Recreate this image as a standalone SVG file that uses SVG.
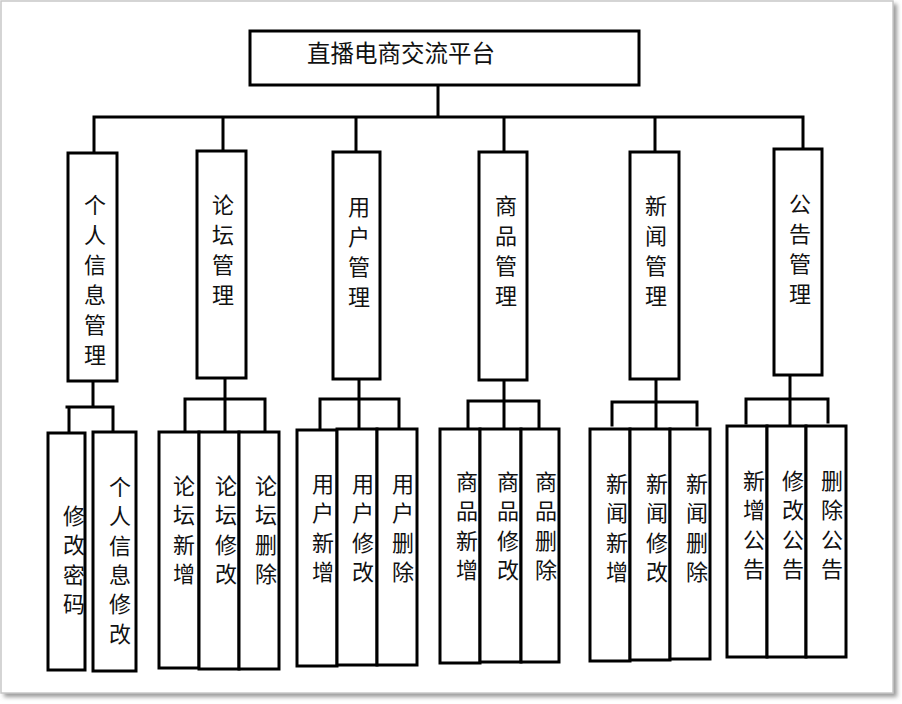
<svg xmlns="http://www.w3.org/2000/svg" width="902" height="704" viewBox="0 0 902 704">
<defs>
<filter id="sh" x="-5%" y="-5%" width="110%" height="110%"><feGaussianBlur stdDeviation="2"/></filter>
<style>
.b{fill:#fff;stroke:#000;stroke-width:3}
.c{fill:none;stroke:#000;stroke-width:3;stroke-linecap:square}
.t{font-family:"Noto Sans CJK SC","Noto Sans CJK JP",sans-serif;font-size:22px;fill:#111;text-anchor:middle}
.s{font-family:"Noto Sans CJK SC","Noto Sans CJK JP",sans-serif;font-size:22px;fill:#111;text-anchor:middle}
.h{font-family:"Noto Sans CJK SC","Noto Sans CJK JP",sans-serif;font-size:23.5px;fill:#111;text-anchor:middle}
</style>
</defs>
<rect x="4" y="4" width="893" height="693" fill="#9a9a9a" filter="url(#sh)"/>
<rect x="1" y="1" width="892" height="692" fill="#fff" stroke="#c8c8c8" stroke-width="1.5"/>

<g id="connectors">
<path class="c" d="M438 85V117M94 117H803M94 117V151M223 117V151M356 117V151M504 117V151M655 117V151M803 117V148"/>
<path class="c" d="M93 381V407M67 407H113M69 407V432M113 407V432"/>
<path class="c" d="M225 378V431M185 399H265M185 399V431M265 399V431"/>
<path class="c" d="M359 379V429M320 399H399M320 399V429M399 399V429"/>
<path class="c" d="M504 380V428M468 401H539M468 401V427M539 401V427"/>
<path class="c" d="M656 379V428M612 402H697M612 402V425M697 402V425"/>
<path class="c" d="M790 375V426M746 399H828M746 399V423M828 399V422"/>
</g>

<g id="root"><rect class="b" x="250" y="31" width="389" height="54"/><text class="h" x="401" y="62">直播电商交流平台</text></g>

<g id="n1"><rect class="b" x="68" y="153" width="49" height="228"/><text class="t"><tspan x="95" y="213">个</tspan><tspan x="95" y="243">人</tspan><tspan x="95" y="273">信</tspan><tspan x="95" y="303">息</tspan><tspan x="95" y="333">管</tspan><tspan x="95" y="363">理</tspan></text></g>
<g id="n2"><rect class="b" x="197" y="151" width="49" height="227"/><text class="t"><tspan x="223" y="213">论</tspan><tspan x="223" y="243">坛</tspan><tspan x="223" y="273">管</tspan><tspan x="223" y="303">理</tspan></text></g>
<g id="n3"><rect class="b" x="333" y="152" width="47" height="227"/><text class="t"><tspan x="359" y="215">用</tspan><tspan x="359" y="245">户</tspan><tspan x="359" y="275">管</tspan><tspan x="359" y="305">理</tspan></text></g>
<g id="n4"><rect class="b" x="479" y="152" width="48" height="228"/><text class="t"><tspan x="506" y="214">商</tspan><tspan x="506" y="244">品</tspan><tspan x="506" y="274">管</tspan><tspan x="506" y="304">理</tspan></text></g>
<g id="n5"><rect class="b" x="630" y="152" width="49" height="227"/><text class="t"><tspan x="656" y="214">新</tspan><tspan x="656" y="244">闻</tspan><tspan x="656" y="274">管</tspan><tspan x="656" y="304">理</tspan></text></g>
<g id="n6"><rect class="b" x="774" y="149" width="48" height="226"/><text class="t"><tspan x="800" y="212">公</tspan><tspan x="800" y="242">告</tspan><tspan x="800" y="272">管</tspan><tspan x="800" y="302">理</tspan></text></g>

<g id="l1a"><rect class="b" x="48" y="433" width="37" height="237"/><text class="s"><tspan x="74" y="524">修</tspan><tspan x="74" y="553">改</tspan><tspan x="74" y="583">密</tspan><tspan x="74" y="612">码</tspan></text></g>
<g id="l1b"><rect class="b" x="93" y="432" width="43" height="239"/><text class="s"><tspan x="120" y="495">个</tspan><tspan x="120" y="524">人</tspan><tspan x="120" y="554">信</tspan><tspan x="120" y="583">息</tspan><tspan x="120" y="612">修</tspan><tspan x="120" y="642">改</tspan></text></g>

<g id="l2a"><rect class="b" x="159" y="432" width="40" height="236"/><text class="s"><tspan x="184" y="494">论</tspan><tspan x="184" y="523">坛</tspan><tspan x="184" y="553">新</tspan><tspan x="184" y="582">增</tspan></text></g>
<g id="l2b"><rect class="b" x="199" y="432" width="40" height="237"/><text class="s"><tspan x="226" y="494">论</tspan><tspan x="226" y="523">坛</tspan><tspan x="226" y="553">修</tspan><tspan x="226" y="582">改</tspan></text></g>
<g id="l2c"><rect class="b" x="239" y="432" width="40" height="237"/><text class="s"><tspan x="266" y="494">论</tspan><tspan x="266" y="523">坛</tspan><tspan x="266" y="553">删</tspan><tspan x="266" y="582">除</tspan></text></g>

<g id="l3a"><rect class="b" x="297" y="430" width="40" height="236"/><text class="s"><tspan x="323" y="492">用</tspan><tspan x="323" y="521">户</tspan><tspan x="323" y="551">新</tspan><tspan x="323" y="580">增</tspan></text></g>
<g id="l3b"><rect class="b" x="337" y="429" width="40" height="236"/><text class="s"><tspan x="363" y="492">用</tspan><tspan x="363" y="521">户</tspan><tspan x="363" y="551">修</tspan><tspan x="363" y="580">改</tspan></text></g>
<g id="l3c"><rect class="b" x="377" y="429" width="40" height="236"/><text class="s"><tspan x="403" y="492">用</tspan><tspan x="403" y="521">户</tspan><tspan x="403" y="551">删</tspan><tspan x="403" y="580">除</tspan></text></g>

<g id="l4a"><rect class="b" x="440" y="429" width="40" height="234"/><text class="s"><tspan x="467" y="490">商</tspan><tspan x="467" y="519">品</tspan><tspan x="467" y="549">新</tspan><tspan x="467" y="578">增</tspan></text></g>
<g id="l4b"><rect class="b" x="480" y="429" width="41" height="233"/><text class="s"><tspan x="508" y="490">商</tspan><tspan x="508" y="519">品</tspan><tspan x="508" y="549">修</tspan><tspan x="508" y="578">改</tspan></text></g>
<g id="l4c"><rect class="b" x="521" y="429" width="38" height="233"/><text class="s"><tspan x="546" y="490">商</tspan><tspan x="546" y="519">品</tspan><tspan x="546" y="549">删</tspan><tspan x="546" y="578">除</tspan></text></g>

<g id="l5a"><rect class="b" x="590" y="429" width="40" height="232"/><text class="s"><tspan x="617" y="492">新</tspan><tspan x="617" y="521">闻</tspan><tspan x="617" y="551">新</tspan><tspan x="617" y="580">增</tspan></text></g>
<g id="l5b"><rect class="b" x="630" y="429" width="40" height="231"/><text class="s"><tspan x="657" y="492">新</tspan><tspan x="657" y="521">闻</tspan><tspan x="657" y="551">修</tspan><tspan x="657" y="580">改</tspan></text></g>
<g id="l5c"><rect class="b" x="670" y="429" width="40" height="230"/><text class="s"><tspan x="697" y="492">新</tspan><tspan x="697" y="521">闻</tspan><tspan x="697" y="551">删</tspan><tspan x="697" y="580">除</tspan></text></g>

<g id="l6a"><rect class="b" x="727" y="426" width="40" height="231"/><text class="s"><tspan x="754" y="489">新</tspan><tspan x="754" y="518">增</tspan><tspan x="754" y="548">公</tspan><tspan x="754" y="577">告</tspan></text></g>
<g id="l6b"><rect class="b" x="767" y="426" width="39" height="231"/><text class="s"><tspan x="793" y="489">修</tspan><tspan x="793" y="518">改</tspan><tspan x="793" y="548">公</tspan><tspan x="793" y="577">告</tspan></text></g>
<g id="l6c"><rect class="b" x="806" y="426" width="40" height="231"/><text class="s"><tspan x="832" y="489">删</tspan><tspan x="832" y="518">除</tspan><tspan x="832" y="548">公</tspan><tspan x="832" y="577">告</tspan></text></g>
</svg>
